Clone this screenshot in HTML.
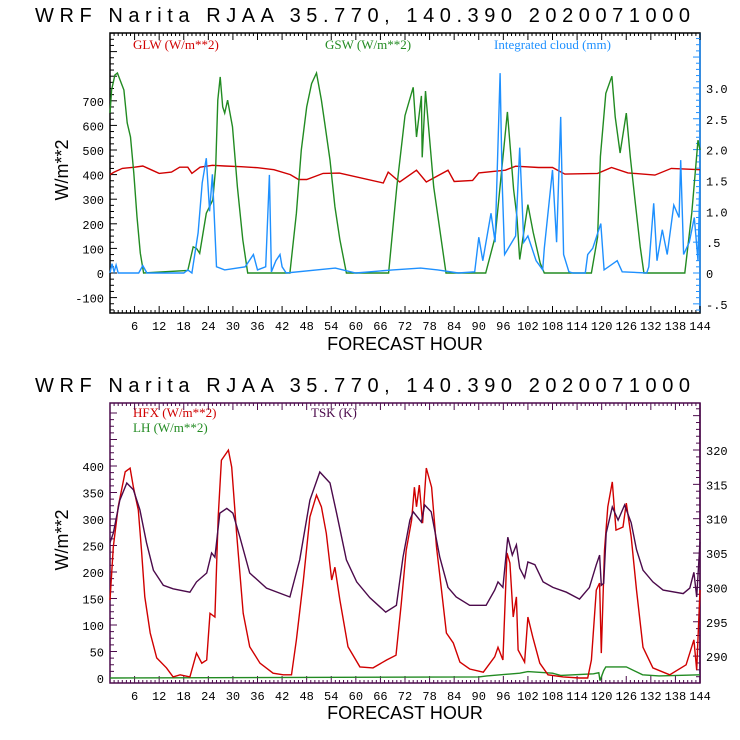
<!DOCTYPE html>
<html><head><meta charset="utf-8"><style>
body{margin:0;background:#fff}
svg{display:block}
text{font-family:"Liberation Sans",sans-serif}
.tk{font-family:"Liberation Mono",monospace;font-size:12px}
.lg{font-family:"Liberation Serif",serif;font-size:13px}
</style></head><body>
<svg id="c" width="740" height="740" viewBox="0 0 740 740">
<rect width="740" height="740" fill="#fff"/>
<text x="35" y="22" font-size="20" textLength="655">WRF  Narita RJAA   35.770, 140.390  2020071000</text>
<text x="35" y="392" font-size="20" textLength="655">WRF  Narita RJAA   35.770, 140.390  2020071000</text>
<text class="lg" x="133" y="49" fill="#d00000">GLW (W/m**2)</text>
<text class="lg" x="325" y="49" fill="#228b22">GSW (W/m**2)</text>
<text class="lg" x="494" y="49" fill="#1e90ff">Integrated cloud (mm)</text>
<text class="lg" x="133" y="417" fill="#d00000">HFX (W/m**2)</text>
<text class="lg" x="133" y="432" fill="#228b22">LH  (W/m**2)</text>
<text class="lg" x="311" y="417" fill="#4b0a4b">TSK (K)</text>
<text x="405" y="350" font-size="18" text-anchor="middle">FORECAST HOUR</text>
<text x="405" y="719" font-size="18" text-anchor="middle">FORECAST HOUR</text>
<text transform="translate(68,170) rotate(-90)" font-size="18" text-anchor="middle">W/m**2</text>
<text transform="translate(68,540) rotate(-90)" font-size="18" text-anchor="middle">W/m**2</text>
<g id="g"></g>
</svg>
<script>
// ---- data ----
const gswHours=[0,0.4,1.2,1.8,3.4,4.2,5,5.8,6.6,7.4,8.2,19,20.3,21.1,21.9,23.5,25.1,25.8,26.3,26.9,27.5,28,28.7,29.9,31.1,32.4,33.6,43.9,45.5,46.7,48,49.2,50.4,51.6,52.4,53.7,54.9,56.1,57.7,68,70,72,74,74.8,76,76.2,77,79,82,91.7,94,97,98.5,99.3,100,102,103.3,105,106,117.5,119,119.7,121,122.5,123.3,124.5,126,127,128.2,129.4,130.3,140.3,142,143.5,144];
const gswValues=[650,744,805,813,744,610,553,406,228,81,0,10,106,100,80,243,297,431,703,797,675,650,703,594,350,135,0,0,243,500,675,770,813,703,610,459,270,135,0,0,350,640,755,553,720,470,740,350,0,0,146,655,340,230,55,278,165,40,0,0,146,473,730,800,635,488,650,472,285,107,0,0,245,540,500];
const glwHours=[0,1,3,6,8,10,12,15,17,19,20,22,25,28,32,36,40,44,46,48,52,56,66.7,67.9,70.7,74.8,77.2,82.5,84,88.5,90,96.5,99,104.6,108,111,119,122.4,126.4,133,137,144];
const glwValues=[400,410,425,430,435,420,405,410,430,430,405,430,438,435,432,428,420,400,380,380,405,406,366,410,370,418,370,418,372,376,407,418,434,429,429,402,405,429,407,398,425,420];
const cloudHours=[0,0.5,1,1.5,2,7,8,9,18,19,20,21.5,22.5,23.5,24.3,25,26,28,33,35,36,38,38.9,39.4,40.5,41.5,42,43,55,60,69,75.8,80,85,89,90,91,93,94,95.2,95.7,96.3,99,100,101,102,104,105.6,106,108,109,110,110.7,112,113,116,116.6,117.8,119.8,120.6,123.8,125,131,131.5,132.7,133.5,134.8,136,137.6,138.9,139.3,140,141.4,142.6,143.5,144];
const cloudValues=[0,0.15,0.02,0.13,0,0,0.12,0,0,0.05,0,0.65,1.46,1.86,1.0,1.6,0.1,0.05,0.1,0.3,0.05,0.1,1.59,0.02,0.2,0.3,0.1,0,0.08,0,0.05,0.08,0.05,0,0.02,0.58,0.2,0.97,0.5,3.24,1.5,0.3,0.6,2.03,0.5,0.6,0.2,0.05,0.4,1.67,0.5,2.53,0.3,0.02,0,0,0.3,0.4,0.8,0.05,0.2,0.02,0,0.1,1.13,0.2,0.7,0.3,1.1,0.9,1.83,0.3,0.5,0.9,0.2,1.6];
const hfxHours=[0,0.8,2,3.7,4.9,5.7,6.9,7.7,8.5,9.8,11.4,13.8,15.4,17.1,19.5,21.1,22.4,23.6,24.4,25.6,26.4,27.2,28.9,29.7,30.9,32.5,34.1,36.6,39.8,42.3,44.3,45.5,47.2,48.8,50.4,51.6,52.8,54.1,54.9,56.1,58.1,61,64.2,67.5,69.8,71.1,72.3,73.6,74.3,74.8,75.5,76.3,77.2,78.5,79.7,80.9,82.1,83.8,85.4,87.8,91.1,93.9,94.7,95.9,96.9,97.6,98.4,99.2,99.6,101.2,102,103.2,104.9,106.9,110.6,114.6,116.6,117.5,118.7,119.5,119.9,120.7,121.5,122.6,123.5,125.2,126,127.2,128.5,130.1,132.5,136.6,140.6,142.5,143.2,144];
const hfxValues=[147,247,323,389,396,360,317,241,153,85,38,19,2,6,2,47,28,34,122,115,304,411,430,398,273,122,59,28,9,6,6,72,185,304,345,323,273,185,209,147,59,21,19,34,43,141,241,298,360,323,364,292,396,360,247,166,85,66,30,17,11,40,58,34,236,217,115,153,53,30,115,77,28,6,2,0,0,34,166,179,47,241,323,370,279,285,330,266,166,58,19,6,25,72,15,166];
const lhHours=[0,90,92,100,102,108,110,118,119.3,119.6,120.5,121,126,130,134,144];
const lhValues=[0,2,4,9,12,9,5,8,10,-5,14,21,21,6,4,6];
const tskHours=[0,0.8,2.4,4.1,5.7,7.3,8.9,10.6,13,15.4,19.5,21.1,23.6,24.8,25.6,26.8,28.5,30,31.7,34.1,38.2,43.9,46.3,48.8,51.2,53.7,55.3,57.7,60.2,63.4,67.3,69.9,71.5,73.2,74,76,76.8,78.4,80.5,82.5,84.5,87.8,91.8,93.9,94.7,95.9,97.1,98.2,99.2,100,101.2,102,103.7,105.7,108.1,111.4,114.6,117,118.7,119.5,119.9,120.5,121.1,122.6,124,125.6,127.2,128.5,130.1,132.5,135,139.9,141.5,142.5,143.2,144];
const tskValues=[306.5,307.9,312.7,315.2,314.2,311.3,306.5,302.5,300.3,299.8,299.3,300.8,302.1,305,304.4,310.8,311.5,310.8,307.3,302.1,299.9,298.6,304,312.7,316.8,315.2,310.8,304,300.8,298.5,296.4,297.4,304.4,309.8,311,309.5,312,311,304.4,300,298.6,297.4,297.4,299.6,300.8,300,307.3,304.7,306.2,302.8,301.4,303.7,303.3,300.8,300,299.3,298.3,300,303.3,304.7,300.3,300.6,307.9,311.7,309.8,312,309.4,305.5,302.5,300.8,299.6,299.1,299.9,302.2,298.6,306.6];
const xTicks=[6,12,18,24,30,36,42,48,54,60,66,72,78,84,90,96,102,108,114,120,126,132,138,144];
const topLeftTicks=[-100,0,100,200,300,400,500,600,700];
const topRightTicks=[-0.5,0,0.5,1.0,1.5,2.0,2.5,3.0];
const topRightLabels=["-.5","0",".5","1.0","1.5","2.0","2.5","3.0"];
const botLeftTicks=[0,50,100,150,200,250,300,350,400];
const botRightTicks=[290,295,300,305,310,315,320];

// ---- axes ----
const X0=110,X1=700;
const xs=h=>X0+h*(X1-X0)/144;
const T={top:33,bot:313};
const yTopL=v=>273-v*0.246;
const yTopR=v=>273-v*61.7;
const B={top:403,bot:683};
const yBotL=v=>678-v*0.53;
const yBotR=v=>450+(320-v)*6.87;

const NS="http://www.w3.org/2000/svg";
const g=document.getElementById('g');
function mk(tag,attrs,parent){const e=document.createElementNS(NS,tag);for(const k in attrs)e.setAttribute(k,attrs[k]);(parent||g).appendChild(e);return e;}
function series(hours,vals,yf,color,name){
  let d='';for(let i=0;i<hours.length;i++){d+=(i?'L':'M')+xs(hours[i]).toFixed(1)+','+yf(vals[i]).toFixed(1);}
  const p=mk('path',{d:d,fill:'none',stroke:color,'stroke-width':1.4});
  
  
}
function frame(P,cL,cR,name){
  const r=mk('rect',{x:X0,y:P.top,width:X1-X0,height:P.bot-P.top,fill:'none',stroke:cL,'stroke-width':1.5});
  
  
  mk('line',{x1:X1,y1:P.top,x2:X1,y2:P.bot,stroke:cR,'stroke-width':1.5});
  for(let h=0;h<=144;h++){
    const L=h%6===0?7:3;
    mk('line',{x1:xs(h),y1:P.bot,x2:xs(h),y2:P.bot-L,stroke:cL});
    mk('line',{x1:xs(h),y1:P.top,x2:xs(h),y2:P.top+L,stroke:cL});
  }
  xTicks.forEach(h=>{const t=mk('text',{x:xs(h),y:P.bot+17,'text-anchor':'middle',class:'tk'});t.textContent=h;
    
    });
}
// top chart
frame(T,'#000','#1e90ff','top-plot-frame');
for(let v=-150;v<=1025;v+=25){const y=yTopL(v);if(y<T.top||y>T.bot)continue;mk('line',{x1:X0,y1:y,x2:X0+(v%100===0?7:4),y2:y,stroke:'#000'});}
for(let v=-0.6;v<=3.9;v+=0.1){const y=yTopR(v);if(y<T.top||y>T.bot)continue;const m=Math.abs(Math.round(v*10)%5)===0;mk('line',{x1:X1,y1:y,x2:X1-(m?7:4),y2:y,stroke:'#1e90ff'});}
topLeftTicks.forEach(v=>{const t=mk('text',{x:104,y:yTopL(v)+5,'text-anchor':'end',class:'tk'});t.textContent=v;
  
  });
topRightTicks.forEach((v,i)=>{const t=mk('text',{x:706,y:yTopR(v)+5,class:'tk'});t.textContent=topRightLabels[i];
  
  });
series(glwHours,glwValues,yTopL,'#d00000','glw-line');
series(gswHours,gswValues,yTopL,'#228b22','gsw-line');
series(cloudHours,cloudValues,yTopR,'#1e90ff','cloud-line');
// bottom chart
frame(B,'#4b0a4b','#4b0a4b','bottom-plot-frame');
for(let v=0;v<=510;v+=12.5){const y=yBotL(v);if(y<B.top||y>B.bot)continue;mk('line',{x1:X0,y1:y,x2:X0+(v%50===0?7:4),y2:y,stroke:'#4b0a4b'});}
for(let v=286;v<=330;v+=1){const y=yBotR(v);if(y<B.top||y>B.bot)continue;mk('line',{x1:X1,y1:y,x2:X1-(v%5===0?7:4),y2:y,stroke:'#4b0a4b'});}
botLeftTicks.forEach(v=>{const t=mk('text',{x:104,y:yBotL(v)+5,'text-anchor':'end',class:'tk'});t.textContent=v;
  
  });
botRightTicks.forEach(v=>{const t=mk('text',{x:706,y:yBotR(v)+5,class:'tk'});t.textContent=v;
  
  });
series(lhHours,lhValues,yBotL,'#228b22','lh-line');
series(hfxHours,hfxValues,yBotL,'#d00000','hfx-line');
series(tskHours,tskValues,yBotR,'#4b0a4b','tsk-line');
</script>
</body></html>
